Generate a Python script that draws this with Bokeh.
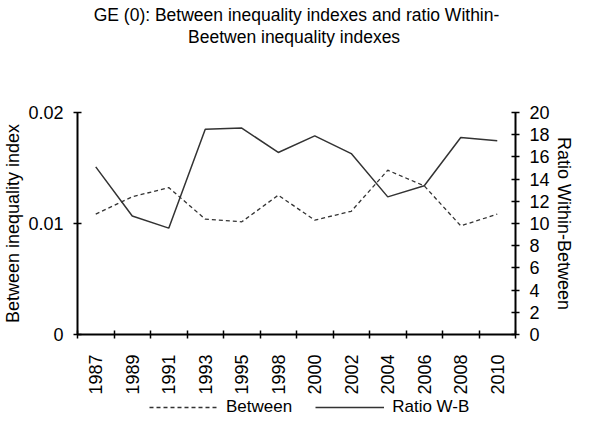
from bokeh.plotting import figure
from bokeh.layouts import column
from bokeh.models import Range1d, LinearAxis, FixedTicker, Legend, LegendItem, Title
from bokeh.embed import file_html
from bokeh.resources import INLINE
import math

years = ["1987", "1989", "1991", "1993", "1995", "1998", "2000", "2002",
         "2004", "2006", "2008", "2010"]
between = [0.01084, 0.0124, 0.01324, 0.01039, 0.01015, 0.01255, 0.0103,
           0.0111, 0.0148, 0.01339, 0.00979, 0.01084]
ratio_wb = [15.1, 10.68, 9.58, 18.5, 18.6, 16.4, 17.9, 16.3, 12.4, 13.4,
            17.75, 17.45]
left_ticks = [0, 0.01, 0.02]
right_ticks = [0, 2, 4, 6, 8, 10, 12, 14, 16, 18, 20]
title_lines = ["GE (0): Between inequality indexes and ratio Within-",
               "Beetwen  inequality indexes"]
series_names = ["Between", "Ratio W-B"]

FONT = "Liberation Sans"
FS = "18px"
TFS = "17.5px"
LINE_COLOR = "#333333"
DASH = "4 3"

xs = list(range(len(years)))

p = figure(width=576, height=397, output_backend="svg", toolbar_location=None,
           x_range=Range1d(-0.5, len(years) - 0.5), y_range=Range1d(0, 0.02),
           min_border_left=73, min_border_right=56, min_border_top=0,
           min_border_bottom=62, x_axis_location=None, y_axis_location=None,
           title=None)
p.extra_y_ranges = {"ratio": Range1d(0, 20)}
p.grid.visible = False
p.outline_line_color = None

# blank spacer between the frame and the two title lines
p.add_layout(Title(text=" ", standoff=42, text_font=FONT, text_font_size=TFS), "above")
p.add_layout(Title(text=title_lines[1], align="center", vertical_align="top", standoff=0,
                   text_font=FONT, text_font_size=TFS, text_font_style="normal",
                   text_color="#000000"), "above")
p.add_layout(Title(text=title_lines[0], align="center", vertical_align="bottom", standoff=4,
                   text_font=FONT, text_font_size=TFS, text_font_style="normal",
                   text_color="#000000"), "above")


def style_axis(ax):
    ax.axis_line_color = "#000000"
    ax.axis_line_width = 2
    ax.major_tick_line_color = "#000000"
    ax.major_tick_line_width = 1.5
    ax.minor_tick_line_color = "#000000"
    ax.minor_tick_line_width = 1.5
    ax.major_label_text_font = FONT
    ax.major_label_text_font_size = FS
    ax.major_label_text_color = "#000000"
    ax.axis_label_text_font = FONT
    ax.axis_label_text_font_size = FS
    ax.axis_label_text_font_style = "normal"
    ax.axis_label_text_color = "#000000"


# bottom axis: labels at category centres, ticks between categories
xaxis = LinearAxis(ticker=FixedTicker(ticks=xs,
                                      minor_ticks=[i - 0.5 for i in range(len(years) + 1)]))
style_axis(xaxis)
xaxis.major_label_overrides = {i: y for i, y in enumerate(years)}
xaxis.major_tick_in = 0
xaxis.major_tick_out = 0
xaxis.minor_tick_in = 4
xaxis.minor_tick_out = 4
xaxis.major_label_standoff = 16
xaxis.major_label_orientation = math.pi / 2
p.add_layout(xaxis, "below")

yaxis = LinearAxis(ticker=FixedTicker(ticks=left_ticks, minor_ticks=[]),
                   axis_label="Between inequality index")
style_axis(yaxis)
yaxis.major_label_overrides = {0: "0", 0.01: "0.01", 0.02: "0.02"}
yaxis.major_tick_in = 4
yaxis.major_tick_out = 4
yaxis.major_label_standoff = 10
yaxis.axis_label_standoff = 2
p.add_layout(yaxis, "left")

raxis = LinearAxis(y_range_name="ratio",
                   ticker=FixedTicker(ticks=right_ticks, minor_ticks=[]),
                   axis_label="Ratio Within-Between")
style_axis(raxis)
raxis.major_tick_in = 4
raxis.major_tick_out = 4
raxis.major_label_standoff = 10
raxis.axis_label_standoff = 1
p.add_layout(raxis, "right")

p.line(xs, between, line_color=LINE_COLOR, line_width=1.3, line_dash=DASH)
p.line(xs, ratio_wb, line_color=LINE_COLOR, line_width=1.5, y_range_name="ratio")

# legend strip below the chart (own small figure, so it is not clipped)
lf = figure(width=576, height=20, output_backend="svg", toolbar_location=None,
            x_range=Range1d(0, 1), y_range=Range1d(0, 1), min_border=0,
            min_border_left=0, min_border_right=0, min_border_top=0,
            min_border_bottom=0, x_axis_location=None, y_axis_location=None,
            title=None)
lf.grid.visible = False
lf.outline_line_color = None
k1 = lf.line(xs[:1], between[:1], line_color=LINE_COLOR, line_width=1.3, line_dash=DASH)
k2 = lf.line(xs[:1], ratio_wb[:1], line_color=LINE_COLOR, line_width=1.5)
legend = Legend(items=[LegendItem(label=series_names[0], renderers=[k1]),
                       LegendItem(label=series_names[1], renderers=[k2])],
                orientation="horizontal", location=(72, 0),
                border_line_alpha=0, background_fill_alpha=0,
                padding=0, margin=0, spacing=23, label_standoff=8,
                glyph_width=69, glyph_height=18, label_height=18,
                label_text_font=FONT, label_text_font_size="17px",
                label_text_color="#000000")
lf.add_layout(legend)

layout = column(p, lf, spacing=0)
open("out.html", "w").write(file_html(layout, INLINE))
